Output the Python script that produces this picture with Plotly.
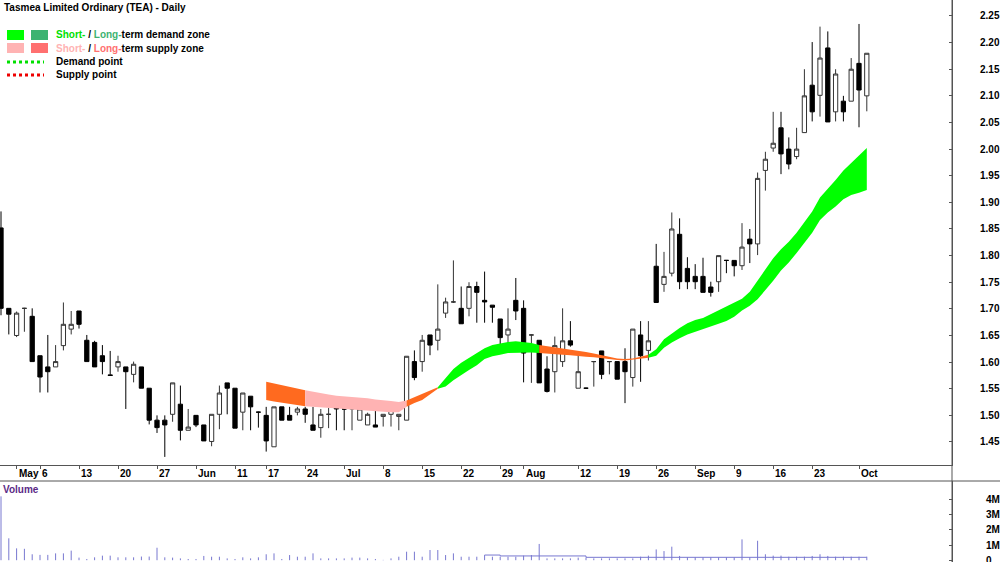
import plotly.graph_objects as go

# ---------------- data ----------------
# trading-day index 0 = 29 Apr 2019 ... 111 = 2 Oct 2019
open_ = [1.852, 1.701, 1.650, 1.701, 1.686, 1.612, 1.591, 1.591, 1.631, 1.662,
         1.696, 1.641, 1.637, 1.612, 1.576, 1.591, 1.591, 1.577, 1.591, 1.551,
         1.491, 1.491, 1.502, 1.521, 1.472, 1.500, 1.482, 1.451, 1.502, 1.561,
         1.551, 1.506, 1.536, 1.506, 1.500, 1.441, 1.516, 1.500, 1.506, 1.512,
         1.482, 1.477, 1.502, 1.516, 1.512, 1.512, 1.491, 1.482, 1.482, 1.498,
         1.502, 1.498, 1.491, 1.601, 1.601, 1.651, 1.641, 1.692, 1.713, 1.701,
         1.701, 1.742, 1.716, 1.707, 1.681, 1.651, 1.716, 1.701, 1.651, 1.641,
         1.587, 1.582, 1.601, 1.640, 1.551, 1.551, 1.601, 1.621, 1.601, 1.601,
         1.601, 1.571, 1.651, 1.622, 1.780, 1.746, 1.767, 1.840, 1.776, 1.761,
         1.761, 1.741, 1.751, 1.791, 1.791, 1.781, 1.831, 1.822, 1.960, 2.002,
         2.040, 2.000, 1.986, 2.031, 2.120, 2.101, 2.190, 2.070, 2.090, 2.090,
         2.161, 2.100]
high = [1.883, 1.701, 1.695, 1.702, 1.701, 1.612, 1.651, 1.632, 1.712, 1.696,
        1.696, 1.651, 1.640, 1.632, 1.621, 1.612, 1.591, 1.601, 1.591, 1.551,
        1.500, 1.500, 1.561, 1.556, 1.512, 1.500, 1.482, 1.502, 1.556, 1.561,
        1.551, 1.542, 1.536, 1.507, 1.516, 1.516, 1.516, 1.516, 1.516, 1.516,
        1.516, 1.512, 1.514, 1.516, 1.513, 1.516, 1.512, 1.505, 1.510, 1.502,
        1.512, 1.502, 1.611, 1.622, 1.651, 1.651, 1.746, 1.721, 1.791, 1.742,
        1.750, 1.751, 1.770, 1.707, 1.681, 1.701, 1.758, 1.716, 1.652, 1.641,
        1.611, 1.648, 1.701, 1.677, 1.615, 1.552, 1.602, 1.621, 1.602, 1.601,
        1.626, 1.662, 1.677, 1.677, 1.822, 1.807, 1.881, 1.870, 1.797, 1.784,
        1.796, 1.751, 1.800, 1.791, 1.791, 1.861, 1.850, 1.956, 1.995, 2.070,
        2.070, 2.022, 2.040, 2.150, 2.201, 2.230, 2.221, 2.150, 2.100, 2.171,
        2.235, 2.180]
low = [1.688, 1.652, 1.647, 1.657, 1.601, 1.543, 1.543, 1.591, 1.622, 1.652,
       1.663, 1.601, 1.591, 1.577, 1.575, 1.582, 1.512, 1.562, 1.551, 1.483,
       1.467, 1.422, 1.488, 1.453, 1.472, 1.478, 1.452, 1.442, 1.474, 1.502,
       1.476, 1.472, 1.472, 1.477, 1.432, 1.441, 1.491, 1.491, 1.500, 1.486,
       1.472, 1.458, 1.476, 1.472, 1.472, 1.472, 1.491, 1.482, 1.478, 1.479,
       1.479, 1.472, 1.491, 1.566, 1.582, 1.613, 1.622, 1.683, 1.711, 1.672,
       1.686, 1.674, 1.674, 1.674, 1.628, 1.624, 1.679, 1.562, 1.561, 1.561,
       1.543, 1.543, 1.591, 1.629, 1.551, 1.550, 1.554, 1.568, 1.577, 1.568,
       1.523, 1.554, 1.563, 1.603, 1.712, 1.732, 1.761, 1.737, 1.737, 1.737,
       1.731, 1.723, 1.732, 1.767, 1.761, 1.773, 1.786, 1.801, 1.922, 1.995,
       1.953, 1.962, 1.981, 2.031, 2.052, 2.061, 2.051, 2.052, 2.052, 2.090,
       2.041, 2.071]
close = [1.701, 1.690, 1.692, 1.701, 1.601, 1.572, 1.582, 1.601, 1.671, 1.671,
         1.671, 1.601, 1.591, 1.601, 1.575, 1.601, 1.582, 1.596, 1.551, 1.491,
         1.477, 1.482, 1.561, 1.472, 1.478, 1.482, 1.452, 1.502, 1.542, 1.551,
         1.476, 1.542, 1.516, 1.506, 1.452, 1.516, 1.491, 1.491, 1.512, 1.502,
         1.472, 1.502, 1.502, 1.512, 1.512, 1.516, 1.512, 1.502, 1.478, 1.502,
         1.512, 1.502, 1.611, 1.571, 1.641, 1.632, 1.662, 1.713, 1.713, 1.672,
         1.742, 1.731, 1.713, 1.703, 1.646, 1.662, 1.696, 1.617, 1.651, 1.561,
         1.545, 1.631, 1.640, 1.632, 1.582, 1.551, 1.601, 1.577, 1.601, 1.568,
         1.582, 1.662, 1.612, 1.640, 1.712, 1.761, 1.850, 1.751, 1.751, 1.751,
         1.731, 1.731, 1.800, 1.791, 1.781, 1.816, 1.822, 1.945, 1.981, 2.011,
         1.991, 1.972, 2.000, 2.100, 2.070, 2.171, 2.051, 2.141, 2.070, 2.150,
         2.111, 2.180]
volume = [4.20e6, 1.44e6, 0.78e6, 0.75e6, 0.39e6, 0.35e6, 0.35e6, 0.45e6, 0.45e6, 0.63e6,
          0.17e6, 0.08e6, 0.19e6, 0.30e6, 0.30e6, 0.19e6, 0.19e6, 0.19e6, 0.24e6, 0.24e6,
          0.82e6, 0.19e6, 0.17e6, 0.12e6, 0.08e6, 0.08e6, 0.28e6, 0.23e6, 0.23e6, 0.12e6,
          0.08e6, 0.19e6, 0.12e6, 0.19e6, 0.39e6, 0.45e6, 0.08e6, 0.34e6, 0.23e6, 0.23e6,
          0.45e6, 0.12e6, 0.12e6, 0.12e6, 0.12e6, 0.17e6, 0.17e6, 0.12e6, 0.08e6, 0.02e6,
          0.12e6, 0.23e6, 0.56e6, 0.56e6, 0.23e6, 0.67e6, 0.67e6, 0.34e6, 0.45e6, 0.23e6,
          0.23e6, 0.23e6, 0.34e6, 0.23e6, 0.23e6, 0.23e6, 0.23e6, 0.30e6, 0.34e6, 1.07e6,
          0.12e6, 0.12e6, 0.12e6, 0.12e6, 0.17e6, 0.17e6, 0.12e6, 0.12e6, 0.12e6, 0.12e6,
          0.12e6, 0.12e6, 0.23e6, 0.30e6, 0.71e6, 0.60e6, 0.89e6, 0.28e6, 0.19e6, 0.19e6,
          0.19e6, 0.19e6, 0.19e6, 0.19e6, 0.19e6, 1.37e6, 0.19e6, 1.28e6, 0.39e6, 0.30e6,
          0.30e6, 0.23e6, 0.23e6, 0.23e6, 0.28e6, 0.39e6, 0.28e6, 0.23e6, 0.23e6, 0.23e6,
          0.23e6, 0.23e6]
vol_avg_idx = [62, 64, 75, 111]
vol_avg = [0.34e6, 0.28e6, 0.19e6, 0.19e6]

# supply / demand band, from trading day 34 to 111
zone_first = 34
zone_hi = [1.563, 1.560, 1.557, 1.554, 1.551, 1.547, 1.544, 1.541, 1.539, 1.537,
           1.536, 1.535, 1.534, 1.532, 1.530, 1.529, 1.527, 1.525, 1.528, 1.534,
           1.541, 1.547, 1.553, 1.571, 1.587, 1.599, 1.608, 1.618, 1.626, 1.632,
           1.635, 1.638, 1.639, 1.638, 1.636, 1.632, 1.630, 1.628, 1.626, 1.624,
           1.621, 1.619, 1.616, 1.613, 1.610, 1.607, 1.606, 1.607, 1.610, 1.614,
           1.624, 1.643, 1.654, 1.664, 1.673, 1.679, 1.683, 1.690, 1.698, 1.704,
           1.712, 1.719, 1.732, 1.753, 1.775, 1.795, 1.812, 1.826, 1.843, 1.862,
           1.883, 1.909, 1.925, 1.942, 1.960, 1.975, 1.988, 2.002]
zone_lo = [1.529, 1.526, 1.524, 1.522, 1.519, 1.517, 1.515, 1.514, 1.513, 1.512,
           1.511, 1.510, 1.509, 1.508, 1.507, 1.507, 1.506, 1.506, 1.516, 1.523,
           1.529, 1.540, 1.550, 1.554, 1.566, 1.575, 1.585, 1.594, 1.606, 1.611,
           1.614, 1.617, 1.618, 1.618, 1.618, 1.617, 1.616, 1.615, 1.614, 1.613,
           1.612, 1.610, 1.609, 1.607, 1.606, 1.604, 1.603, 1.604, 1.606, 1.608,
           1.612, 1.627, 1.637, 1.645, 1.652, 1.657, 1.661, 1.667, 1.672, 1.677,
           1.685, 1.697, 1.706, 1.718, 1.735, 1.753, 1.772, 1.787, 1.805, 1.823,
           1.843, 1.867, 1.881, 1.892, 1.906, 1.914, 1.918, 1.923]
zone_seg_start = [34, 39, 52, 56, 69, 83]
zone_seg_kind = ["long_supply", "short_supply", "long_supply", "demand", "long_supply", "demand"]

tick_idx = [2, 5, 10, 15, 20, 25, 30, 34, 39, 44, 49, 54, 59, 64, 67, 74, 79, 84, 89, 94, 99, 104, 110]
tick_text = ["May", "6", "13", "20", "27", "Jun", "11", "17", "24", "Jul", "8", "15", "22", "29",
             "Aug", "12", "19", "26", "Sep", "9", "16", "23", "Oct"]
price_ticks = [1.45, 1.50, 1.55, 1.60, 1.65, 1.70, 1.75, 1.80, 1.85, 1.90, 1.95,
               2.00, 2.05, 2.10, 2.15, 2.20, 2.25]
vol_ticks = [0, 1e6, 2e6, 3e6, 4e6]
vol_tick_text = ["0", "1M", "2M", "3M", "4M"]

# ---------------- styling ----------------
W, H = 1000, 562
FONT = "Liberation Sans, Arial, sans-serif"
FS = 10
zone_colors = {"long_supply": "#FF6A1F", "short_supply": "#FFB3B3", "demand": "#00FF00"}
AXC = "#555555"
VOLC = "#7878D0"

def px(x):
    return x / W

def py(y):
    return 1 - y / H

n = len(close)
idx = list(range(n))

fig = go.Figure()

# zones
last = zone_first + len(zone_hi) - 1
for k, s in enumerate(zone_seg_start):
    e = zone_seg_start[k + 1] if k + 1 < len(zone_seg_start) else last
    xs = list(range(s, e + 1))
    hi = zone_hi[s - zone_first:e - zone_first + 1]
    lo = zone_lo[s - zone_first:e - zone_first + 1]
    fig.add_trace(go.Scatter(x=xs + xs[::-1], y=hi + lo[::-1], fill="toself",
                             fillcolor=zone_colors[zone_seg_kind[k]], mode="lines",
                             line=dict(width=0, color=zone_colors[zone_seg_kind[k]]),
                             hoverinfo="skip", showlegend=False, xaxis="x", yaxis="y"))

# candles
fig.add_trace(go.Candlestick(
    x=idx, open=open_, high=high, low=low, close=close,
    increasing=dict(fillcolor="#FFFFFF", line=dict(color="#333333", width=1)),
    decreasing=dict(fillcolor="#000000", line=dict(color="#000000", width=1)),
    whiskerwidth=0, showlegend=False, xaxis="x", yaxis="y"))

# volume lines
vx, vy = [], []
for i, v in zip(idx, volume):
    vx += [i, i, None]
    vy += [0, v, None]
fig.add_trace(go.Scatter(x=vx, y=vy, mode="lines", line=dict(color=VOLC, width=1),
                         hoverinfo="skip", showlegend=False, xaxis="x2", yaxis="y2"))
fig.add_trace(go.Scatter(x=vol_avg_idx, y=vol_avg, mode="lines", line=dict(color=VOLC, width=1, shape="hv"),
                         hoverinfo="skip", showlegend=False, xaxis="x2", yaxis="y2"))

xr = [(0 - 1) / 7.8, (952 - 1) / 7.8]
XD = [0, 0.952]
fig.update_layout(
    width=W, height=H, margin=dict(l=0, r=0, t=0, b=0, autoexpand=False),
    paper_bgcolor="white", plot_bgcolor="white",
    boxgap=0.22,
    font=dict(family=FONT, size=FS, color="black"),
    xaxis=dict(domain=XD, range=xr, anchor="y", tickvals=tick_idx, ticks="outside", ticklen=3,
               tickcolor=AXC, showticklabels=False, showline=True, linecolor=AXC, linewidth=1,
               showgrid=False, zeroline=False, rangeslider=dict(visible=False), fixedrange=True,
               automargin=False),
    yaxis=dict(domain=[1 - 465 / H, 1], range=[1.4068, 2.2800], anchor="x", side="right",
               tickvals=price_ticks, ticktext=["%.2f" % t for t in price_ticks],
               ticks="inside", ticklen=3, tickcolor=AXC, showline=True, linecolor=AXC,
               ticklabelstandoff=25, tickfont=dict(family=FONT, size=FS, weight="bold"),
               showgrid=False, zeroline=False, fixedrange=True, automargin=False),
    xaxis2=dict(domain=XD, range=xr, anchor="y2", visible=False, fixedrange=True, automargin=False),
    yaxis2=dict(domain=[0, 1 - 481 / H], range=[-0.118e6, 5.21e6], anchor="x2", side="right",
                tickvals=vol_ticks, ticktext=vol_tick_text, ticks="inside", ticklen=3,
                tickcolor=AXC, showline=True, linecolor=AXC, ticklabelstandoff=31,
                ticklabeloverflow="allow",
                tickfont=dict(family=FONT, size=FS, weight="bold"),
                showgrid=False, zeroline=False, fixedrange=True, automargin=False),
)

shapes = [
    dict(type="line", xref="paper", yref="paper", x0=0, x1=1, y0=py(481), y1=py(481),
         line=dict(color=AXC, width=1)),
    dict(type="line", xref="paper", yref="paper", x0=XD[1], x1=XD[1], y0=0, y1=1,
         line=dict(color=AXC, width=1)),
    # legend swatches
    dict(type="rect", xref="paper", yref="paper", x0=px(7), x1=px(24), y0=py(40), y1=py(30),
         fillcolor="#00FF00", line=dict(width=0)),
    dict(type="rect", xref="paper", yref="paper", x0=px(31), x1=px(48), y0=py(40), y1=py(30),
         fillcolor="#3CB371", line=dict(width=0)),
    dict(type="rect", xref="paper", yref="paper", x0=px(7), x1=px(24), y0=py(53), y1=py(43),
         fillcolor="#FFB3B3", line=dict(width=0)),
    dict(type="rect", xref="paper", yref="paper", x0=px(31), x1=px(48), y0=py(53), y1=py(43),
         fillcolor="#FF7070", line=dict(width=0)),
    dict(type="line", xref="paper", yref="paper", x0=px(7), x1=px(44), y0=py(62), y1=py(62),
         line=dict(color="#00E000", width=3, dash="dot")),
    dict(type="line", xref="paper", yref="paper", x0=px(7), x1=px(44), y0=py(75), y1=py(75),
         line=dict(color="#EE0000", width=3, dash="dot")),
]
fig.update_layout(shapes=shapes)

ann = [
    dict(text="<b>Tasmea Limited Ordinary (TEA) - Daily</b>", x=px(2), y=py(8)),
    dict(text='<b><span style="color:#00E000">Short-</span> / <span style="color:#3CB371">Long-</span>term demand zone</b>',
         x=px(54), y=py(35)),
    dict(text='<b><span style="color:#FFB3B3">Short-</span> / <span style="color:#FF7070">Long-</span>term supply zone</b>',
         x=px(54), y=py(48.5)),
    dict(text="<b>Demand point</b>", x=px(54), y=py(62)),
    dict(text="<b>Supply point</b>", x=px(54), y=py(75)),
    dict(text='<b><span style="color:#5B2A86">Volume</span></b>', x=px(1), y=py(489)),
]
annotations = []
for a in ann:
    a.update(xref="paper", yref="paper", xanchor="left", yanchor="middle", showarrow=False,
             font=dict(family=FONT, size=FS, color="black"))
    annotations.append(a)
for t, s in zip(tick_idx, tick_text):
    annotations.append(dict(text="<b>%s</b>" % s, x=t, xref="x", y=py(473), yref="paper",
                            xanchor="left", yanchor="middle", xshift=0, showarrow=False,
                            font=dict(family=FONT, size=FS, color="black")))
fig.update_layout(annotations=annotations)

fig.write_html("out.html")
